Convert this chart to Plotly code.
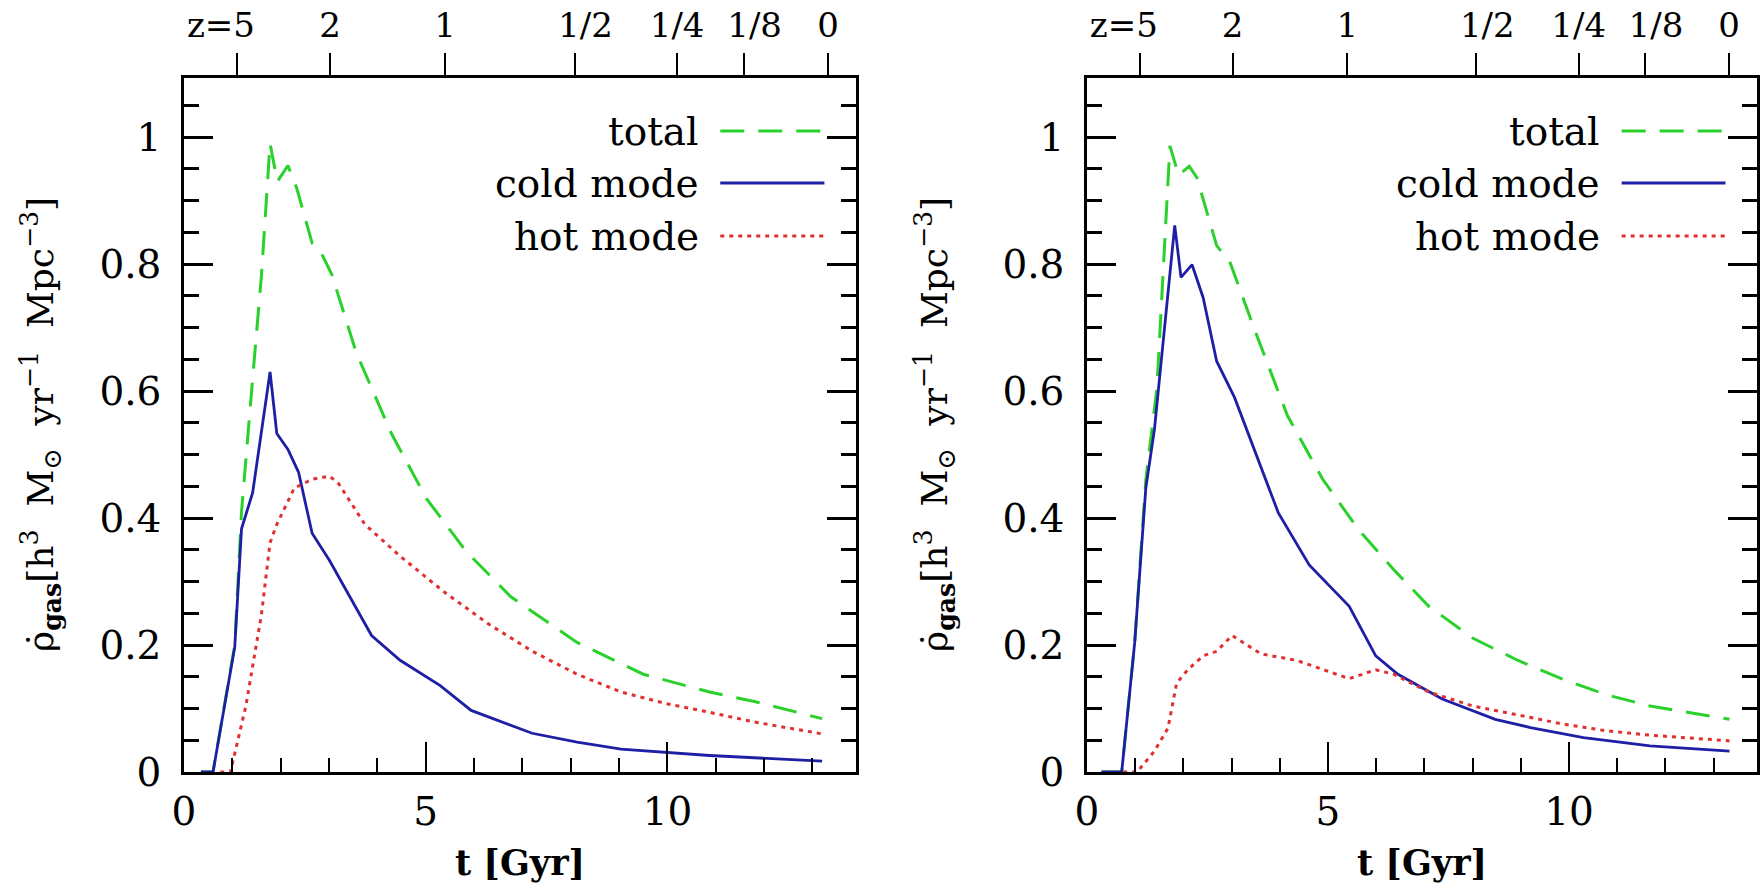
import plotly.graph_objects as go

# ---------------- data ----------------
# Left panel
t_cold_L = [0.35, 0.6, 1.05, 1.19, 1.42, 1.78, 1.92, 2.15, 2.37, 2.65, 3.01, 3.88, 4.47, 5.3, 5.94, 7.2, 8.13, 9.04, 10.87, 11.8, 13.2]
cold_L   = [0.0, 0.0, 0.197, 0.383, 0.44, 0.63, 0.533, 0.508, 0.472, 0.376, 0.333, 0.215, 0.176, 0.136, 0.097, 0.061, 0.047, 0.036, 0.026, 0.022, 0.017]

t_tot_L = [0.35, 0.6, 1.05, 1.19, 1.42, 1.6, 1.78, 1.93, 2.15, 2.33, 2.65, 2.83, 3.06, 3.56, 4.29, 5.02, 5.84, 6.76, 8.13, 9.5, 10.87, 11.8, 13.2]
tot_L   = [0.0, 0.0, 0.2, 0.41, 0.62, 0.78, 0.99, 0.93, 0.955, 0.92, 0.833, 0.819, 0.783, 0.661, 0.533, 0.43, 0.347, 0.276, 0.204, 0.154, 0.126, 0.111, 0.084]

t_hot_L = [0.75, 0.96, 1.28, 1.6, 1.78, 1.92, 2.28, 2.65, 3.01, 3.2, 3.74, 4.47, 5.39, 6.3, 7.21, 8.13, 9.04, 9.95, 10.87, 11.78, 13.2]
hot_L   = [0.0, 0.0, 0.104, 0.247, 0.361, 0.39, 0.447, 0.461, 0.466, 0.454, 0.39, 0.34, 0.283, 0.233, 0.19, 0.154, 0.126, 0.108, 0.094, 0.079, 0.06]

# Right panel
t_cold_R = [0.3, 0.72, 0.99, 1.22, 1.4, 1.82, 1.95, 2.18, 2.41, 2.69, 3.06, 3.97, 4.61, 5.44, 5.99, 6.45, 7.37, 8.47, 9.2, 10.3, 11.68, 13.33]
cold_R   = [0.0, 0.0, 0.204, 0.447, 0.54, 0.861, 0.779, 0.799, 0.747, 0.647, 0.59, 0.408, 0.326, 0.261, 0.183, 0.154, 0.115, 0.083, 0.07, 0.054, 0.041, 0.033]

t_tot_R = [0.3, 0.72, 0.99, 1.22, 1.45, 1.72, 1.9, 2.12, 2.28, 2.69, 2.96, 3.51, 4.16, 4.89, 5.62, 6.36, 7.09, 8.0, 8.93, 9.84, 10.76, 11.68, 13.33]
tot_R   = [0.0, 0.0, 0.204, 0.46, 0.604, 0.986, 0.94, 0.954, 0.936, 0.829, 0.804, 0.69, 0.561, 0.461, 0.383, 0.319, 0.261, 0.211, 0.176, 0.147, 0.122, 0.104, 0.083]

t_hot_R = [0.75, 1.04, 1.4, 1.68, 1.86, 2.09, 2.41, 2.69, 3.01, 3.24, 3.61, 4.34, 4.89, 5.44, 5.99, 6.36, 7.09, 8.0, 8.93, 9.84, 10.76, 11.68, 13.33]
hot_R   = [0.0, 0.0, 0.033, 0.069, 0.14, 0.161, 0.183, 0.19, 0.215, 0.204, 0.186, 0.176, 0.161, 0.147, 0.161, 0.154, 0.126, 0.104, 0.09, 0.076, 0.065, 0.058, 0.049]

# redshift axis (cosmic time of each redshift label, Gyr)
z_t      = [1.1, 3.02, 5.4, 8.08, 10.2, 11.58, 13.32]
z_labels = ["z=5\u00a0\u00a0\u00a0", "2", "1", "\u00a0\u00a01/2", "1/4", "\u00a0\u00a01/8", "0"]

x_ticks = [0, 5, 10]
x_labels = ["0", "5", "10"]
y_ticks = [0, 0.2, 0.4, 0.6, 0.8, 1.0]
y_labels = ["0", "0.2", "0.4", "0.6", "0.8", "1"]

series_names = ["total", "cold mode", "hot mode"]

# ---------------- style ----------------
FONT = "DejaVu Serif"
GREEN = "#2bd12b"
BLUE = "#1f1fa6"
RED = "#e03030"
styles = {
    "total": dict(color=GREEN, width=3, dash="24px,14px"),
    "cold mode": dict(color=BLUE, width=2.8, dash="solid"),
    "hot mode": dict(color=RED, width=3, dash="4px,5px"),
}

W, H = 1761, 889
ML, MR, MT, MB = 184, 4, 78, 117
plotw = W - ML - MR
dom_L = [0, 672 / plotw]
dom_R = [(1087 - ML) / plotw, 1]
XR = [0, 13.9]
YR = [0, 1.093]

fig = go.Figure()

panels = [
    ("x", "y", (t_tot_L, tot_L), (t_cold_L, cold_L), (t_hot_L, hot_L)),
    ("x2", "y2", (t_tot_R, tot_R), (t_cold_R, cold_R), (t_hot_R, hot_R)),
]
for xa, ya, tot, cold, hot in panels:
    for name, (tx, vy) in zip(series_names, [tot, cold, hot]):
        fig.add_trace(go.Scatter(x=tx, y=vy, mode="lines", name=name,
                                 line=styles[name], xaxis=xa, yaxis=ya,
                                 showlegend=False, hoverinfo="skip"))
    # dummy trace for the top redshift axis
    xtop = "x3" if xa == "x" else "x4"
    fig.add_trace(go.Scatter(x=[XR[0], XR[1]], y=[None, None], xaxis=xtop, yaxis=ya,
                             showlegend=False, hoverinfo="skip"))

tickfont = dict(family=FONT, size=39, color="black")

def xaxis_bottom(domain, anchor):
    return dict(domain=domain, anchor=anchor, range=XR, showgrid=False, zeroline=False,
                automargin=False,
                showline=True, linecolor="black", linewidth=2.5, mirror=True,
                ticks="inside", ticklen=30, tickwidth=2.2, tickcolor="black",
                tickvals=x_ticks, ticktext=x_labels, tickfont=tickfont, tickangle=0,
                ticklabelstandoff=3,
                minor=dict(ticks="inside", ticklen=14, tickwidth=2.2, tickcolor="black", dtick=1, showgrid=False))

def yaxis(domain, anchor):
    return dict(domain=domain, anchor=anchor, range=YR, showgrid=False, zeroline=False,
                automargin=False,
                showline=True, linecolor="black", linewidth=2.5, mirror="ticks",
                ticks="inside", ticklen=29, tickwidth=2.5, tickcolor="black",
                tickvals=y_ticks, ticktext=y_labels, tickfont=tickfont,
                ticklabelstandoff=12,
                minor=dict(ticks="inside", ticklen=15, tickwidth=2.5, tickcolor="black", dtick=0.05, showgrid=False))

def xaxis_top(overlay, anchor):
    return dict(overlaying=overlay, anchor=anchor, side="top", range=XR, showgrid=False,
                automargin=False,
                zeroline=False, showline=False, ticks="outside", ticklen=24, tickwidth=2,
                tickcolor="black", tickvals=z_t, ticktext=z_labels, tickangle=0,
                tickfont=dict(family=FONT, size=34, color="black"), ticklabelstandoff=2)

fig.update_layout(
    width=W, height=H,
    margin=dict(l=ML, r=MR, t=MT, b=MB, pad=0),
    paper_bgcolor="white", plot_bgcolor="white",
    xaxis=xaxis_bottom(dom_L, "y"),
    yaxis=yaxis([0, 1], "x"),
    xaxis2=xaxis_bottom(dom_R, "y2"),
    yaxis2=yaxis([0, 1], "x2"),
    xaxis3=xaxis_top("x", "y"),
    xaxis4=xaxis_top("x2", "y2"),
    showlegend=False,
)

ytitle = ("\u03c1\u0307<sub><b>gas</b></sub>[h<sup>3</sup>\u00a0\u00a0M<sub>\u2299</sub>\u00a0\u00a0"
          "yr<sup>\u22121</sup>\u00a0\u00a0Mpc<sup>\u22123</sup>]")

legend_y = [0.9236, 0.8487, 0.7723]
for xd, yd, tshift in [("x domain", "y domain", -143), ("x2 domain", "y2 domain", -152)]:
    # axis titles
    fig.add_annotation(text="t [Gyr]", xref=xd, yref=yd, x=0.5, y=0, xanchor="center",
                       yanchor="top", yshift=-68, showarrow=False,
                       font=dict(family=FONT, size=35, color="black", weight="bold"))
    fig.add_annotation(text=ytitle, xref=xd, yref=yd, x=0, y=0.5, xanchor="center",
                       yanchor="middle", xshift=tshift, textangle=-90, showarrow=False,
                       font=dict(family=FONT, size=36, color="black"))
    # legend
    for name, ly in zip(series_names, legend_y):
        fig.add_annotation(text=name, xref=xd, yref=yd, x=0.769, y=ly, xanchor="right",
                           yanchor="middle", showarrow=False,
                           font=dict(family=FONT, size=39, color="black"))
        st = styles[name]
        fig.add_shape(type="line", xref=xd, yref=yd, x0=0.798, x1=0.953, y0=ly, y1=ly,
                      line=dict(color=st["color"], width=st["width"], dash=st["dash"]))

fig.write_html("out.html", config={"displayModeBar": False},
               post_script="document.body.style.margin='0px';")
